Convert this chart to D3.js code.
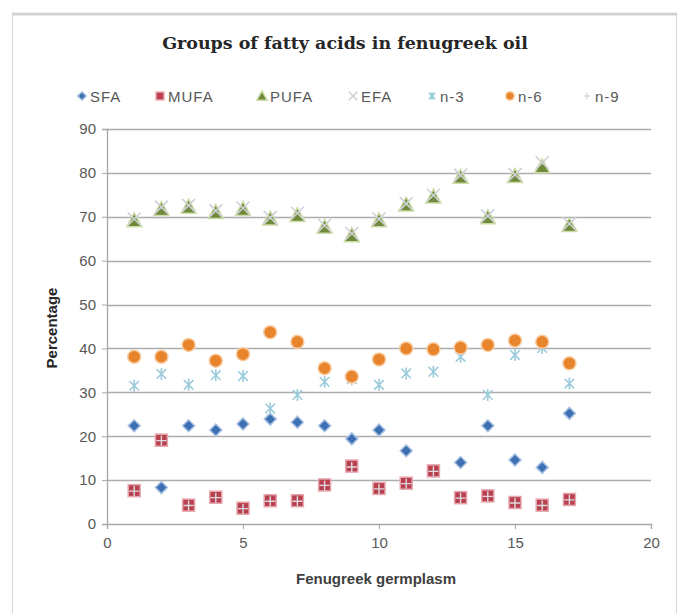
<!DOCTYPE html>
<html><head><meta charset="utf-8">
<script src="https://cdn.jsdelivr.net/npm/d3@7"></script>
<style>body{margin:0;background:#fff}svg{display:block}</style>
</head><body>
<svg id="c" width="679" height="613"></svg>
<script>
const germplasm = [1,2,3,4,5,6,7,8,9,10,11,12,13,14,15,16,17];
const SFA  = [22.4, 8.3, 22.4, 21.4, 22.8, 23.9, 23.2, 22.4, 19.4, 21.4, 16.7, 12.0, 14.0, 22.4, 14.6, 12.9, 25.2];
const MUFA = [7.6, 19.1, 4.3, 6.1, 3.6, 5.3, 5.3, 8.9, 13.2, 8.1, 9.3, 12.1, 6.0, 6.4, 4.9, 4.3, 5.6];
const PUFA = [69.2, 71.8, 72.3, 71.1, 71.8, 69.6, 70.4, 67.7, 65.8, 69.2, 72.8, 74.6, 79.1, 69.9, 79.3, 81.5, 68.1];
const EFA  = [69.5, 72.2, 72.6, 71.4, 72.0, 69.8, 70.8, 68.0, 66.2, 69.5, 73.0, 74.9, 79.5, 70.2, 79.6, 82.3, 68.4];
const N3   = [31.5, 34.2, 31.7, 33.9, 33.7, 26.3, 29.4, 32.4, 33.0, 31.7, 34.3, 34.7, 38.1, 29.4, 38.5, 40.1, 32.0];
const N6   = [38.1, 38.1, 40.8, 37.2, 38.7, 43.7, 41.5, 35.5, 33.6, 37.5, 40.0, 39.8, 40.2, 40.8, 41.8, 41.5, 36.6];
const N9   = [7.5, 19.0, 4.2, 6.0, 3.5, 5.2, 5.2, 8.8, 13.0, 8.0, 9.2, 12.0, 5.9, 6.3, 4.8, 4.2, 5.5];
const seriesNames = ["SFA","MUFA","PUFA","EFA","n-3","n-6","n-9"];
const yTicks = [0,10,20,30,40,50,60,70,80,90];
const xTicks = [0,5,10,15,20];
const title = "Groups of fatty acids in fenugreek oil";
const xTitle = "Fenugreek germplasm";
const yTitle = "Percentage";

const series = [
  {name:"SFA", values:SFA, shape:"diamond", fill:"#3d6fb3", stroke:"#a9c2e2"},
  {name:"MUFA", values:MUFA, shape:"square", fill:"#b9404f", stroke:"#e8a6ae"},
  {name:"PUFA", values:PUFA, shape:"triangle", fill:"#6f8a3b", stroke:"#cddca8"},
  {name:"EFA", values:EFA, shape:"x", fill:"none", stroke:"#cfd1d8"},
  {name:"n-3", values:N3, shape:"star", fill:"none", stroke:"#9ccbdc"},
  {name:"n-6", values:N6, shape:"circle", fill:"#e8852c", stroke:"#f8cba0"},
  {name:"n-9", values:N9, shape:"plus", fill:"none", stroke:"#dcdce0"}
];

const svg = d3.select("#c");
const x = d3.scaleLinear().domain([0,20]).range([107,651]);
const y = d3.scaleLinear().domain([0,90]).range([524,129]);

// chart border with soft top shadow
svg.append("rect").attr("x",12.5).attr("y",14.5).attr("width",664).attr("height",640)
  .attr("fill","#fff").attr("stroke","#d4d4d4");
svg.append("line").attr("x1",12).attr("x2",677).attr("y1",14).attr("y2",14)
  .attr("stroke","#c8c8c8").attr("stroke-width",3).attr("opacity",0.7);

// title
const t = svg.append("text").attr("x",345).attr("y",49).attr("text-anchor","middle")
  .attr("font-family","'DejaVu Serif', 'Liberation Serif', serif").attr("font-weight","bold")
  .attr("font-size",16).attr("fill","#262626").text(title);
{ const w = t.node().getComputedTextLength(); t.attr("font-size", 16*366/w); }

// gridlines
svg.append("g").selectAll("line").data(yTicks.filter(d=>d>0)).join("line")
  .attr("x1",x(0)).attr("x2",x(20)).attr("y1",d=>Math.round(y(d))+0.5).attr("y2",d=>Math.round(y(d))+0.5)
  .attr("stroke","#adadad").attr("stroke-width",1.3);

// axes
const yAxis = d3.axisLeft(y).tickValues(yTicks).tickSize(5).tickPadding(6);
const gy = svg.append("g").attr("transform",`translate(${x(0)},0)`).call(yAxis);
const xAxis = d3.axisBottom(x).tickValues(xTicks).tickSize(5).tickPadding(8);
const gx = svg.append("g").attr("transform",`translate(0,${y(0)})`).call(xAxis);
[gy,gx].forEach(g=>{
  g.select(".domain").attr("stroke","#a6a6a6").attr("stroke-width",1.3);
  g.selectAll(".tick line").attr("stroke","#a6a6a6");
  g.selectAll(".tick text").attr("fill","#595959").attr("font-size",15)
    .attr("font-family","'Liberation Sans', Arial, sans-serif");
});

// axis titles
svg.append("text").attr("x",376).attr("y",584).attr("text-anchor","middle")
  .attr("font-family","'Liberation Sans', Arial, sans-serif").attr("font-weight","bold")
  .attr("font-size",15).attr("fill","#404040").text(xTitle);
svg.append("text").attr("transform","translate(57,328) rotate(-90)").attr("text-anchor","middle")
  .attr("font-family","'Liberation Sans', Arial, sans-serif").attr("font-weight","bold")
  .attr("font-size",15).attr("fill","#262626").text(yTitle);

// marker drawing
function drawMarker(g, s, size){
  const r = size/2;
  if (s.shape==="diamond"){
    g.append("path").attr("d",`M0,${-r-1}L${r+1},0L0,${r+1}L${-r-1},0Z`)
      .attr("fill",s.fill).attr("stroke",s.stroke).attr("stroke-width",1.5);
  } else if (s.shape==="square"){
    g.append("rect").attr("x",-r).attr("y",-r).attr("width",size).attr("height",size)
      .attr("fill",s.fill).attr("stroke",s.stroke).attr("stroke-width",1.5);
  } else if (s.shape==="triangle"){
    g.append("path").attr("d",`M0,${-r-1}L${r+1},${r}L${-r-1},${r}Z`)
      .attr("fill",s.fill).attr("stroke",s.stroke).attr("stroke-width",1.5);
  } else if (s.shape==="circle"){
    g.append("circle").attr("r",r).attr("fill",s.fill).attr("stroke",s.stroke).attr("stroke-width",1.5);
  } else if (s.shape==="x"){
    g.append("path").attr("d",`M${-r},${-r}L${r},${r}M${-r},${r}L${r},${-r}`)
      .attr("stroke",s.stroke).attr("stroke-width",1.6).attr("fill","none");
  } else if (s.shape==="star"){
    g.append("path").attr("d",`M${-r*0.8},${-r*0.8}L${r*0.8},${r*0.8}M${-r*0.8},${r*0.8}L${r*0.8},${-r*0.8}M0,${-r}L0,${r}`)
      .attr("stroke",s.stroke).attr("stroke-width",1.6).attr("fill","none");
  } else if (s.shape==="plus"){
    g.append("path").attr("d",`M${-r},0L${r},0M0,${-r}L0,${r}`)
      .attr("stroke",s.stroke).attr("stroke-width",1.4).attr("fill","none");
  }
}

const sizes = {diamond:10, square:12, triangle:13, x:13, star:12, circle:13, plus:10};
series.forEach(s=>{
  const g = svg.append("g").attr("class","series-"+s.name);
  g.selectAll("g").data(s.values.map((v,i)=>({x:germplasm[i], v}))).join("g")
    .attr("transform",d=>`translate(${x(d.x)},${y(d.v)})`)
    .each(function(){ drawMarker(d3.select(this), s, sizes[s.shape]); });
});

// legend
const legendPos = [82,160,262,353,432,510,587];
const lg = svg.append("g");
series.forEach((s,i)=>{
  const g = lg.append("g").attr("transform",`translate(${legendPos[i]},96)`);
  drawMarker(g, s, sizes[s.shape]*0.65);
  g.append("text").attr("x",8).attr("y",5.5).attr("font-size",15).attr("letter-spacing",1)
    .attr("font-family","'Liberation Sans', Arial, sans-serif").attr("fill","#595959").text(seriesNames[i]);
});
</script>
</body></html>
